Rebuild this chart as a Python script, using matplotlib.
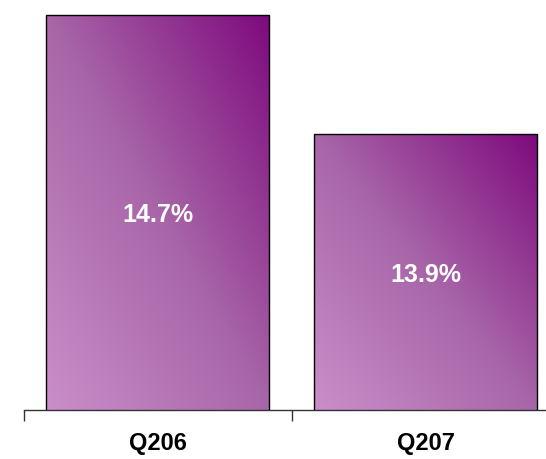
import matplotlib

matplotlib.use("Agg")
import matplotlib.pyplot as plt
import numpy as np
from matplotlib.colors import LinearSegmentedColormap

plt.rcParams["font.family"] = ["Liberation Sans", "DejaVu Sans"]

# quarter labels and the value shown on each bar (%)
quarters = ["Q206", "Q207"]
values = [14.7, 13.9]
value_labels = ["14.7%", "13.9%"]

# light orchid in the lower-left corner running to deep purple top-right
grad = LinearSegmentedColormap.from_list(
    "plum", ["#ca8eca", "#a866a8", "#7e0a7e"]
)

fig = plt.figure(figsize=(5.46, 4.59), dpi=100)
# the axis runs off the right edge, so the axes is wider than the figure
ax = fig.add_axes([23.7 / 546, 1 - 410 / 459, 536 / 546, 410 / 459])

x = np.arange(len(quarters))
bars = ax.bar(x, values, width=0.83, facecolor="none", edgecolor="black",
              linewidth=1.0, zorder=3)

# diagonal gradient fill, clipped to each bar
n = 256
u = np.linspace(0, 1, n)
uu, vv = np.meshgrid(u, u)
shade = (uu + vv) / 2  # 0 at bottom-left, 1 at top-right
ymin = 12.05
for bar in bars:
    x0 = bar.get_x()
    x1 = x0 + bar.get_width()
    im = ax.imshow(shade, cmap=grad, origin="lower", aspect="auto",
                   extent=(x0, x1, ymin, bar.get_height()),
                   interpolation="bilinear", zorder=2)
    im.set_clip_path(bar)

for xi, v, lab in zip(x, values, value_labels):
    ax.annotate(lab, (xi, (ymin + v) / 2), xytext=(0, -2),
                textcoords="offset points", color="white", fontsize=18,
                fontweight="bold", ha="center", va="center", zorder=4)

ax.set_xlim(-0.5, 1.5)
ax.set_ylim(ymin, 14.8)

for side in ("top", "right", "left"):
    ax.spines[side].set_visible(False)
ax.spines["bottom"].set_color("#333333")
ax.spines["bottom"].set_linewidth(1.0)
ax.set_yticks([])

# tick marks sit on the category boundaries, labels under the bars
ax.set_xticks([-0.5, 0.5, 1.5])
ax.set_xticklabels([])
ax.tick_params(axis="x", direction="out", length=8, width=1.0, color="#333333")
ax.set_xticks(x, minor=True)
ax.set_xticklabels(quarters, minor=True, fontsize=17, fontweight="bold")
ax.tick_params(axis="x", which="minor", length=0, pad=16)

fig.savefig("out.png", dpi=100, facecolor="white")
